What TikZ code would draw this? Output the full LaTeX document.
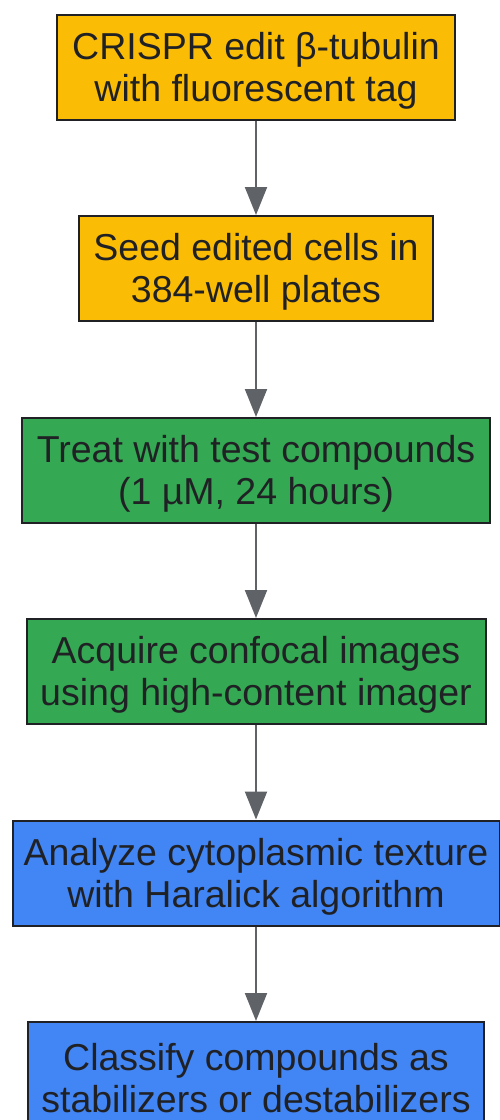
\documentclass[tikz,border=0pt]{standalone}
\usepackage{fontspec}
\setmainfont{Liberation Sans}
\usepackage{tikz}
\usetikzlibrary{arrows.meta}
\definecolor{boxorange}{HTML}{FBBC05}
\definecolor{boxgreen}{HTML}{34A853}
\definecolor{boxblue}{HTML}{4285F4}
\definecolor{txtdark}{HTML}{202124}
\definecolor{arrowgray}{HTML}{5F6368}
\tikzset{
  step node/.style={rectangle,draw=txtdark,line width=2pt,text=txtdark,align=center,
    minimum height=105pt,inner sep=0pt,font=\fontsize{37.5}{42}\selectfont,
    text height=76pt},
  orange node/.style={step node,fill=boxorange},
  green node/.style={step node,fill=boxgreen},
  blue node/.style={step node,fill=boxblue}
}

\begin{document}
\begin{tikzpicture}[x=1pt,y=1pt,
      flow/.style={draw=arrowgray,line width=2pt,-{Triangle[length=28pt,width=22pt]}}]
  \useasboundingbox (0,0) rectangle (499,-1120);
  \node [orange node,minimum width=398pt] (crispr) at (256,-67.5) {CRISPR edit β-tubulin\\with fluorescent tag};
  \node [orange node,minimum width=354pt] (seed) at (256,-268.5) {Seed edited cells in\\384-well plates};
  \node [green node,minimum width=468pt] (treat) at (256,-470.5) {Treat with test compounds\\(1 µM, 24 hours)};
  \node [green node,minimum width=459pt] (acquire) at (256,-671.5) {Acquire confocal images\\using high-content imager};
  \node [blue node,minimum width=487pt] (analyze) at (256,-873) {Analyze cytoplasmic texture\\with Haralick algorithm};
  \node [blue node,minimum width=456pt] (classify) at (256,-1074.5) {Classify compounds as\\stabilizers or destabilizers};
  \draw [flow] (crispr) -- (seed);
  \draw [flow] (seed) -- (treat);
  \draw [flow] (treat) -- (acquire);
  \draw [flow] (acquire) -- (analyze);
  \draw [flow] (analyze) -- (classify);
\end{tikzpicture}
\end{document}
